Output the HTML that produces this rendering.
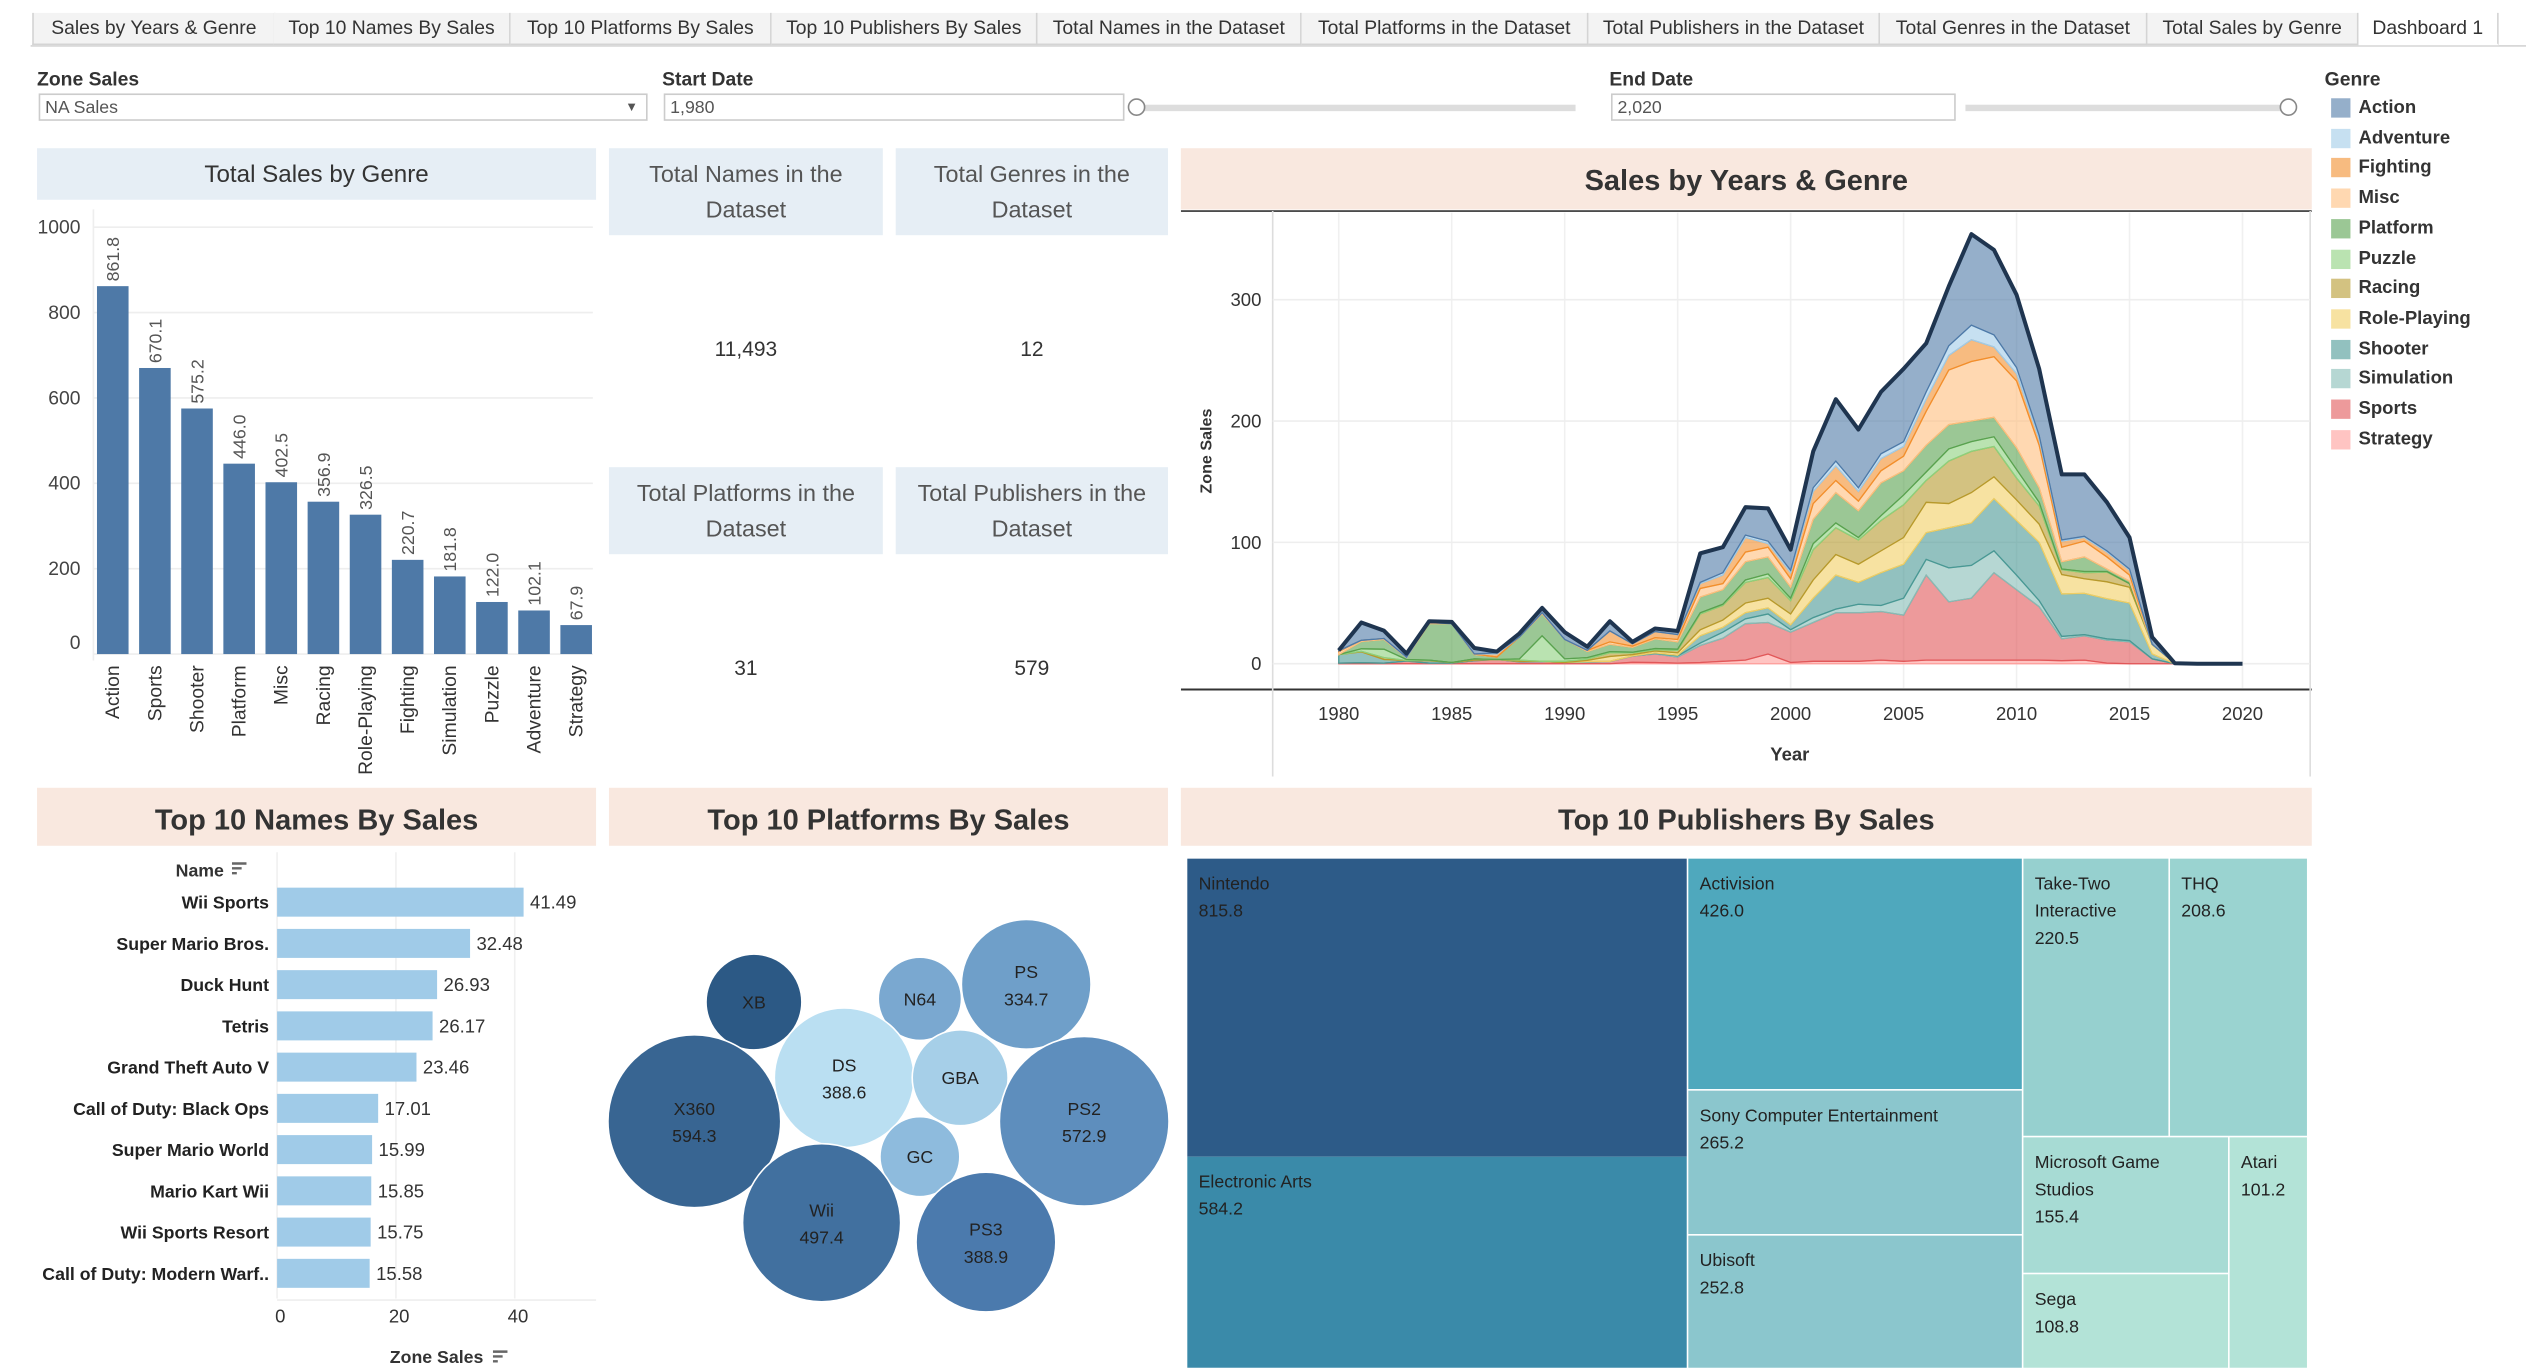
<!DOCTYPE html>
<html><head><meta charset="utf-8">
<style>
html,body{margin:0;padding:0;background:#fff;overflow:hidden}
body{width:2526px;height:1368px}
#root{position:absolute;left:0;top:0;width:1568px;height:849px;transform:scale(1.611);transform-origin:0 0;font-family:"Liberation Sans",sans-serif;color:#333}
.abs{position:absolute}
.tab{position:absolute;top:8px;height:19px;line-height:19px;font-size:12px;color:#333;background:#f3f3f3;border-right:1px solid #d4d4d4;border-bottom:1px solid #d4d4d4;text-align:center;white-space:nowrap}
.lbl{position:absolute;font-size:12px;font-weight:bold;color:#333}
.input{position:absolute;height:16px;border:1px solid #ccc;font-size:11px;line-height:16px;padding-left:3px;box-sizing:border-box;color:#555;background:#fff}
.hdrb{position:absolute;background:#e6eef5;text-align:center;color:#555}
.hdrp{position:absolute;background:#f9e8df;text-align:center;color:#333;font-weight:bold;font-size:18px}
.val{position:absolute;font-size:13px;color:#333;text-align:center}
svg text{font-family:"Liberation Sans",sans-serif}
</style></head><body>
<div id="root">
<div class="abs" style="left:19px;top:8px;width:1549px;height:20px;border-bottom:1px solid #d4d4d4"></div>
<div class="tab" style="left:20px;width:149px;border-left:1px solid #d4d4d4">Sales by Years &amp; Genre</div>
<div class="tab" style="left:170px;width:146px">Top 10 Names By Sales</div>
<div class="tab" style="left:317px;width:161px">Top 10 Platforms By Sales</div>
<div class="tab" style="left:479px;width:164px">Top 10 Publishers By Sales</div>
<div class="tab" style="left:644px;width:163px">Total Names in the Dataset</div>
<div class="tab" style="left:808px;width:177px">Total Platforms in the Dataset</div>
<div class="tab" style="left:986px;width:180px">Total Publishers in the Dataset</div>
<div class="tab" style="left:1167px;width:165px">Total Genres in the Dataset</div>
<div class="tab" style="left:1333px;width:130px">Total Sales by Genre</div>
<div class="tab" style="left:1464px;width:86px;background:#fff;border-bottom:1px solid #fff">Dashboard 1</div>

<div class="lbl" style="left:23px;top:42px">Zone Sales</div>
<div class="input" style="left:24px;top:58px;width:378px;height:17px">NA Sales<span style="position:absolute;right:5px;font-size:8px">▼</span></div>
<div class="lbl" style="left:411px;top:42px">Start Date</div>
<div class="input" style="left:412px;top:58px;width:286px;height:17px">1,980</div>
<div class="abs" style="left:704px;top:65px;width:274px;height:4px;background:#ddd"></div>
<div class="abs" style="left:700px;top:61px;width:9px;height:9px;border:1px solid #888;border-radius:50%;background:#fff"></div>
<div class="lbl" style="left:999px;top:42px">End Date</div>
<div class="input" style="left:1000px;top:58px;width:214px;height:17px">2,020</div>
<div class="abs" style="left:1220px;top:65px;width:200px;height:4px;background:#ddd"></div>
<div class="abs" style="left:1415px;top:61px;width:9px;height:9px;border:1px solid #888;border-radius:50%;background:#fff"></div>

<div class="lbl" style="left:1443px;top:42px">Genre</div>
<div id="legend"></div>

<div class="hdrb" style="left:23px;top:92px;width:347px;height:32px;line-height:34px;font-size:15px;color:#333">Total Sales by Genre</div>
<svg id="barsvg" class="abs" style="left:0;top:125px" width="375" height="360"></svg>

<div class="hdrb" style="left:378px;top:92px;width:170px;height:54px;font-size:14.5px;line-height:22px;padding-top:6px;box-sizing:border-box">Total Names in the<br>Dataset</div>
<div class="hdrb" style="left:556px;top:92px;width:169px;height:54px;font-size:14.5px;line-height:22px;padding-top:6px;box-sizing:border-box">Total Genres in the<br>Dataset</div>
<div class="val" style="left:378px;top:209px;width:170px">11,493</div>
<div class="val" style="left:556px;top:209px;width:169px">12</div>
<div class="hdrb" style="left:378px;top:290px;width:170px;height:54px;font-size:14.5px;line-height:22px;padding-top:6px;box-sizing:border-box">Total Platforms in the<br>Dataset</div>
<div class="hdrb" style="left:556px;top:290px;width:169px;height:54px;font-size:14.5px;line-height:22px;padding-top:6px;box-sizing:border-box">Total Publishers in the<br>Dataset</div>
<div class="val" style="left:378px;top:407px;width:170px">31</div>
<div class="val" style="left:556px;top:407px;width:169px">579</div>

<div class="hdrp" style="left:733px;top:92px;width:702px;height:38px;line-height:40px">Sales by Years &amp; Genre</div>
<svg id="areasvg" class="abs" style="left:733px;top:130px" width="702" height="352"></svg>

<div class="hdrp" style="left:23px;top:489px;width:347px;height:36px;line-height:40px">Top 10 Names By Sales</div>
<div class="hdrp" style="left:378px;top:489px;width:347px;height:36px;line-height:40px">Top 10 Platforms By Sales</div>
<div class="hdrp" style="left:733px;top:489px;width:702px;height:36px;line-height:40px">Top 10 Publishers By Sales</div>
<svg id="namesvg" class="abs" style="left:0;top:526px" width="375" height="323"></svg>
<svg id="bubsvg" class="abs" style="left:375px;top:526px" width="355" height="323"></svg>
<div id="tree" class="abs" style="left:0;top:0"></div>
</div>
<script>
var NS="http://www.w3.org/2000/svg";
function mk(p,t,a){var e=document.createElementNS(NS,t);for(var k in a)e.setAttribute(k,a[k]);p.appendChild(e);return e;}

// ---------- Genre legend ----------
var genres=["Action","Adventure","Fighting","Misc","Platform","Puzzle","Racing","Role-Playing","Shooter","Simulation","Sports","Strategy"];
var genreColors=["#4E79A7","#A0CBE8","#F28E2B","#FFBE7D","#59A14F","#8CD17D","#B6992D","#F1CE63","#499894","#86BCB6","#E15759","#FF9D9A"];
var leg=document.getElementById('legend');
genres.forEach(function(g,i){
  var d=document.createElement('div');
  
  
  d.style.cssText='position:absolute;left:1447px;top:'+(61+i*18.7)+'px;font-size:11.5px;font-weight:bold;color:#333;white-space:nowrap;line-height:13px';
  d.innerHTML='<span style="display:inline-block;width:12px;height:12px;background:'+genreColors[i]+';opacity:0.6;vertical-align:top;margin-right:5px"></span>'+g;
  leg.appendChild(d);
});

// ---------- Total Sales by Genre ----------
var barCats=["Action","Sports","Shooter","Platform","Misc","Racing","Role-Playing","Fighting","Simulation","Puzzle","Adventure","Strategy"];
var barVals=[861.8,670.1,575.2,446.0,402.5,356.9,326.5,220.7,181.8,122.0,102.1,67.9];
var barTicks=[0,200,400,600,800,1000];
(function(){
  var s=document.getElementById('barsvg');
  var y0=281,k=0.265; function Y(v){return y0-v*k;}
  function X(i){return 70+i*26.15;}
  barTicks.forEach(function(t){
    var l=mk(s,'line',{x1:58,x2:368,y1:Y(t),y2:Y(t),stroke:'#eee'});
    
    var tx=mk(s,'text',{x:50,y:Y(t)+(t==0?-3:4),'text-anchor':'end','font-size':12,fill:'#444'});tx.textContent=t;
    
  });
  mk(s,'line',{x1:58,x2:58,y1:5,y2:285,stroke:'#eee'});
  barCats.forEach(function(c,i){
    var h=barVals[i]*k;
    var r=mk(s,'rect',{x:X(i)-9.8,y:Y(barVals[i]),width:19.6,height:h,fill:'#4e79a7'});
    
    var t=mk(s,'text',{transform:'translate('+(X(i)+4)+','+(Y(barVals[i])-3)+') rotate(-90)','font-size':11,fill:'#555'});t.textContent=barVals[i].toFixed(1);
    
    var cl=mk(s,'text',{transform:'translate('+(X(i)+4)+',288) rotate(-90)','font-size':12,fill:'#333','text-anchor':'end'});cl.textContent=c;
    
  });
})();

// ---------- Sales by Years & Genre (stacked area) ----------
var years=[];for(var yy=1980;yy<=2020;yy++)years.push(yy);
var sAction=[0.3,14.7,6.5,2.9,1,1.5,5,1,3,4,6,3,8,1.5,2.5,3,24,21,23,27,17,30,51,48,51,60,40,49,75,70,60,55,54,51,40,26,6,0,0,0,0];
var sAdventure=[0,0,0,0.4,0,0,0,1,0,0,0,0,0,0,0,0,1,2,2,2,2,3,4,3,4,4,6,8,12,10,5,3,1,1,1,1,0,0,0,0,0];
var sFighting=[0.7,0,0,0,0,0,0,2.5,0,0,0,0,9,2,5,4,4,7,12,3,5,10,12,8,10,8,10,12,18,8,6,5,5,3,4,4,0,0,0,0,0];
var sMisc=[2.5,1,0.8,0.1,1,0,0.5,0,0,1,0,1,2,1,1,2,7,5,8,8,7,13,10,8,10,12,28,45,49,50,55,35,12,13,10,5,0,0,0,0,0];
var sPlatform=[0,6,8,1.4,30,32,3.5,2,18,18,16,5,6,4,8,6,13,12,15,14,9,20,25,22,27,20,22,20,17,16,18,12,6,12,2,2,0,0,0,0,0];
var sPuzzle=[0,2,7,0.8,0,0,0,0,1,21,2,1.2,1,0.5,1,1,1,1,2,3,2,5,4,2,4,8,7,10,8,8,7,3,0.5,1,0.5,0,0,0,0,0,0];
var sRacing=[0,0.5,1.5,0,0.5,0,1,0,1,0,1,1,3,1.5,1,2,13,12,17,17,11,25,22,20,25,27,18,35,34,25,18,15,4,5,8,3,0,0,0,0,0];
var sRPG=[0,0,0,0,0,0,0,0,0,0,0,1,4,1,1.5,2,5,6,8,8,9,15,17,15,18,22,25,20,25,18,17,15,16,12,14,13,8,0.4,0,0,0];
var sShooter=[7,9,3,0.5,2,0.5,0.5,0,0.5,0.1,0,0.2,0,0,0.5,0.5,6,4,5,5,4,16,28,18,27,28,22,33,35,43,45,48,35,34,33,31,4,0,0,0,0];
var sSimulation=[0,0,0,0,0,0,0,0,0,0,0,0.5,0.3,0.3,0.5,1,2,5,4,7,2,4,3,7,5,14,13,28,27,18,12,5,2,1,1,1,0,0,0,0,0];
var sSports=[0.5,0.8,0.5,2.2,0.5,0.5,2.5,3.5,1.5,1.9,1,1.1,1.7,5,7,5,14,19,30,26,25,32,40,40,40,38,70,48,51,72,58,44,18,20,19,18,4,0,0,0,0];
var sStrategy=[0,0,0,0,0,0,0,0,0,0,0,0,0,1.2,1,0.5,1,2,3,8,1,2,2,2,3,2,3,3,3,3,3,3,2.5,3,0.5,0,0,0,0,0,0];
var areaSeries=[sAction,sAdventure,sFighting,sMisc,sPlatform,sPuzzle,sRacing,sRPG,sShooter,sSimulation,sSports,sStrategy];
var areaTicksY=[0,100,200,300];
var areaTicksX=[1980,1985,1990,1995,2000,2005,2010,2015,2020];
(function(){
  var s=document.getElementById('areasvg');
  function X(yr){return 98+(yr-1980)*14.025;}
  function Y(v){return 282-v*0.7533;}
  mk(s,'line',{x1:0,x2:702,y1:1,y2:1,stroke:'#333','stroke-width':1});
  mk(s,'line',{x1:0,x2:702,y1:298,y2:298,stroke:'#333','stroke-width':1.3});
  mk(s,'line',{x1:57,x2:57,y1:1,y2:352,stroke:'#ddd'});
  mk(s,'line',{x1:701,x2:701,y1:1,y2:352,stroke:'#ddd'});
  areaTicksX.forEach(function(t){
    mk(s,'line',{x1:X(t),x2:X(t),y1:2,y2:297,stroke:'#f0f0f0'});
    var tx=mk(s,'text',{x:X(t),y:317,'text-anchor':'middle','font-size':11.5,fill:'#333'});tx.textContent=t;
    
  });
  areaTicksY.forEach(function(t){
    mk(s,'line',{x1:57,x2:701,y1:Y(t),y2:Y(t),stroke:'#eee'});
    var tx=mk(s,'text',{x:50,y:Y(t)+4,'text-anchor':'end','font-size':11.5,fill:'#333'});tx.textContent=t;
    
  });
  var xt=mk(s,'text',{x:378,y:342,'text-anchor':'middle','font-size':11.5,'font-weight':'bold',fill:'#333'});xt.textContent='Year';
  
  var yt=mk(s,'text',{transform:'translate(19,150) rotate(-90)','text-anchor':'middle','font-size':10,'font-weight':'bold',fill:'#333'});yt.textContent='Zone Sales';
  
  var base=years.map(function(){return 0;});
  for(var gi=areaSeries.length-1;gi>=0;gi--){
    var ser=areaSeries[gi],top=base.map(function(b,i){return b+ser[i];});
    var d='M'+years.map(function(yr,i){return X(yr)+','+Y(top[i]);}).join(' L');
    for(var i=years.length-1;i>=0;i--)d+=' L'+X(years[i])+','+Y(base[i]);
    var p=mk(s,'path',{d:d+'Z',fill:genreColors[gi],'fill-opacity':0.6,stroke:genreColors[gi],'stroke-width':0.8});
    
    base=top;
  }
  var ol=mk(s,'path',{d:'M'+years.map(function(yr,i){return X(yr)+','+Y(base[i]);}).join(' L'),fill:'none',stroke:'#1f3550','stroke-width':2.5,'stroke-linejoin':'round'});
  
})();

// ---------- Top 10 Names ----------
var nameCats=["Wii Sports","Super Mario Bros.","Duck Hunt","Tetris","Grand Theft Auto V","Call of Duty: Black Ops","Super Mario World","Mario Kart Wii","Wii Sports Resort","Call of Duty: Modern Warf.."];
var nameVals=[41.49,32.48,26.93,26.17,23.46,17.01,15.99,15.85,15.75,15.58];
var nameTicks=[0,20,40];
(function(){
  var s=document.getElementById('namesvg');
  function X(v){return 172+v*3.688;} function Y(i){return 34+i*25.6;}
  nameTicks.forEach(function(t){mk(s,'line',{x1:X(t),x2:X(t),y1:3,y2:280,stroke:'#f0f0f0'});
    var tx=mk(s,'text',{x:X(t)+2,y:295,'text-anchor':'middle','font-size':11.5,fill:'#333'});tx.textContent=t;
    });
  mk(s,'line',{x1:172,x2:370,y1:281,y2:281,stroke:'#eee'});
  var h=mk(s,'text',{x:139,y:18,'text-anchor':'end','font-size':11,'font-weight':'bold',fill:'#333'});h.textContent='Name';
  
  mk(s,'path',{d:'M144,10h9M144,13h6M144,16h3',stroke:'#666','stroke-width':1.5});
  nameCats.forEach(function(c,i){
    var r=mk(s,'rect',{x:172,y:Y(i)-9,width:X(nameVals[i])-172,height:18,fill:'#a0cbe8'});
    
    var l=mk(s,'text',{x:167,y:Y(i)+4,'text-anchor':'end','font-size':11,'font-weight':'bold',fill:'#222'});l.textContent=c;
    
    var v=mk(s,'text',{x:X(nameVals[i])+4,y:Y(i)+4,'font-size':11.5,fill:'#333'});v.textContent=nameVals[i].toFixed(2);
    
  });
  var xt=mk(s,'text',{x:271,y:320,'text-anchor':'middle','font-size':11,'font-weight':'bold',fill:'#333'});xt.textContent='Zone Sales';
  
  mk(s,'path',{d:'M306,313h9M306,316h6M306,319h3',stroke:'#666','stroke-width':1.5});
})();

// ---------- Top 10 Platforms (bubbles) ----------
var platCats=["XB","N64","PS","X360","DS","GBA","PS2","GC","Wii","PS3"];
var platVals=[183,138,334.7,594.3,388.6,183,572.9,127,497.4,388.9];
var platShown=[false,false,true,true,true,false,true,false,true,true];
var platLayout=[[93,96],[196,94],[262,85],[56,170],[149,143],[221,143],[298,170],[196,192],[135,233],[237,245]];
var platColors=["#2c5985","#7aa8d0","#6f9fc9","#386592","#badff2","#a6cfe8","#5e8ebd","#8ebbdd","#41709f","#4b7aad"];
(function(){
  var s=document.getElementById('bubsvg');
  platCats.forEach(function(c,i){
    var r=Math.sqrt(platVals[i])*2.2,cx=platLayout[i][0],cy=platLayout[i][1];
    var ci=mk(s,'circle',{cx:cx,cy:cy,r:r,fill:platColors[i],stroke:'#fff','stroke-width':1});
    
    var t=mk(s,'text',{x:cx,y:platShown[i]?cy-4:cy+4,'text-anchor':'middle','font-size':11,fill:'#222'});t.textContent=c;
    
    if(platShown[i]){var v=mk(s,'text',{x:cx,y:cy+13,'text-anchor':'middle','font-size':11,fill:'#222'});v.textContent=platVals[i].toFixed(1);
      }
  });
})();

// ---------- Top 10 Publishers (treemap) ----------
var pubCats=["Nintendo","Electronic Arts","Activision","Sony Computer Entertainment","Ubisoft","Take-Two<br>Interactive","THQ","Microsoft Game<br>Studios","Sega","Atari"];
var pubVals=[815.8,584.2,426.0,265.2,252.8,220.5,208.6,155.4,108.8,101.2];
var pubLayout=[[737,533,310,185],[737,718,310,131],[1048,533,207,143],[1048,677,207,89],[1048,767,207,82],[1256,533,90,172],[1347,533,85,172],[1256,706,127,84],[1256,791,127,58],[1384,706,48,143]];
var pubColors=["#2d5b88","#3a8aa9","#4fa8bd","#8bc6cd","#8bc6cd","#96d0cf","#9ad3d0","#a7dbd4","#b3e3d7","#b3e3d7"];
(function(){
  var t=document.getElementById('tree');
  pubCats.forEach(function(c,i){
    var L=pubLayout[i],d=document.createElement('div');
    
    
    d.style.cssText='position:absolute;left:'+L[0]+'px;top:'+L[1]+'px;width:'+L[2]+'px;height:'+L[3]+'px;background:'+pubColors[i]+';font-size:11px;line-height:17px;color:#222;padding:8px 0 0 7px;box-sizing:border-box;overflow:hidden';
    d.innerHTML=c+'<br>'+pubVals[i].toFixed(1);
    t.appendChild(d);
  });
})();
</script>
</body></html>
